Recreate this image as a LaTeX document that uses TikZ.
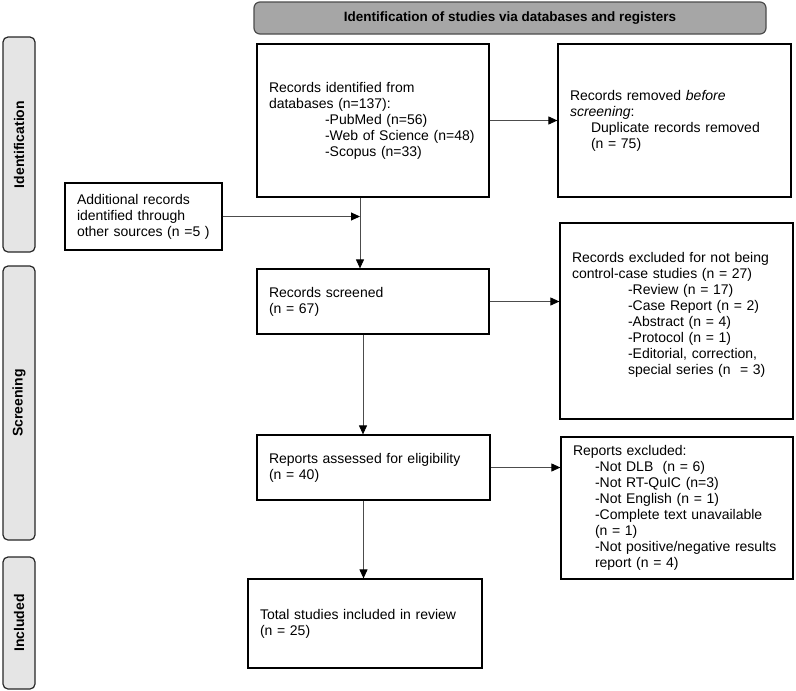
\documentclass[tikz,border=0pt]{standalone}
\usepackage{fontspec}
\setmainfont{Liberation Sans}
\usetikzlibrary{arrows.meta}
\tikzstyle{every node}=[font=\fontsize{14pt}{16pt}\selectfont]
\tikzstyle{box}=[draw=black,line width=1.2pt,inner xsep=12pt,inner ysep=0pt,align=left]
\tikzstyle{phase}=[draw=black!85,fill=black!10,line width=1.2pt,rounded corners=5pt,
  minimum height=32pt,inner sep=0pt,rotate=90,font=\bfseries\fontsize{14pt}{16pt}\selectfont]
\tikzstyle{head}=[draw=black!70,fill=black!35,line width=1.2pt,rounded corners=6pt,
  font=\bfseries\fontsize{13.5pt}{16pt}\selectfont]
\tikzstyle{link}=[draw=black!70,line width=0.9pt,-{Triangle[length=9pt,width=8pt,color=black]}]

\begin{document}
\begin{tikzpicture}[x=1pt,y=-1pt]
  \useasboundingbox (0,0) rectangle (796,691);
  \node [head,minimum width=512pt,minimum height=32pt] (title) at (510,18)
    {Identification of studies via databases and registers};
  \node [phase,minimum width=215pt] (phaseid) at (19,144.5) {Identification};
  \node [phase,minimum width=274pt] (phasescr) at (19,403) {Screening};
  \node [phase,minimum width=132pt] (phaseinc) at (19,623) {Included};

  \node [box,text width=208pt,minimum height=153pt] (ident) at (373,120.5)
    {Records identified from\\databases (n=137):\\
     \hspace*{56pt}-PubMed (n=56)\\
     \hspace*{56pt}-Web of Science (n=48)\\
     \hspace*{56pt}-Scopus (n=33)};
  \node [box,text width=209pt,minimum height=153pt] (removed) at (674.5,120.5)
    {Records removed \textit{before}\\\textit{screening}:\\
     \hspace*{21pt}Duplicate records removed\\
     \hspace*{21pt}(n = 75)};
  \node [box,text width=133pt,minimum height=67pt] (other) at (143.5,216.5)
    {Additional records\\identified through\\other sources (n =5 )};
  \node [box,text width=208pt,minimum height=65pt] (screened) at (373,301.5)
    {Records screened\\(n = 67)};
  \node [box,text width=209pt,minimum height=196pt] (excluded) at (676.5,321)
    {Records excluded for not being\\control-case studies (n = 27)\\
     \hspace*{56pt}-Review (n = 17)\\
     \hspace*{56pt}-Case Report (n = 2)\\
     \hspace*{56pt}-Abstract (n = 4)\\
     \hspace*{56pt}-Protocol (n = 1)\\
     \hspace*{56pt}-Editorial, correction,\\
     \hspace*{56pt}special series (n \ = 3)\\ \mbox{}};
  \node [box,text width=209pt,minimum height=65pt] (assessed) at (373.5,467.5)
    {Reports assessed for eligibility\\(n = 40)};
  \node [box,text width=208pt,minimum height=142pt] (repexcl) at (677,508)
    {Reports excluded:\\
     \hspace*{22pt}-Not DLB \ (n = 6)\\
     \hspace*{22pt}-Not RT-QuIC (n=3)\\
     \hspace*{22pt}-Not English (n = 1)\\
     \hspace*{22pt}-Complete text unavailable\\
     \hspace*{22pt}(n = 1)\\
     \hspace*{22pt}-Not positive/negative results\\
     \hspace*{22pt}report (n = 4)};
  \node [box,text width=210pt,minimum height=89pt] (total) at (365,623.5)
    {Total studies included in review\\(n = 25)};

  \coordinate (split) at ([xshift=-13pt]ident.south);
  \draw [link] (split) -- (split |- screened.north);
  \draw [link] (other.east) -- (other.east -| split);
  \draw [link] (ident.east) -- (removed.west);
  \draw [link] (screened.east) -- (screened.east -| excluded.west);
  \draw [link] ([xshift=-10pt]screened.south) -- ([xshift=-10pt]screened.south |- assessed.north);
  \draw [link] (assessed.east) -- (assessed.east -| repexcl.west);
  \draw [link] ([xshift=-10pt]assessed.south) -- ([xshift=-10pt]assessed.south |- total.north);
\end{tikzpicture}
\end{document}
